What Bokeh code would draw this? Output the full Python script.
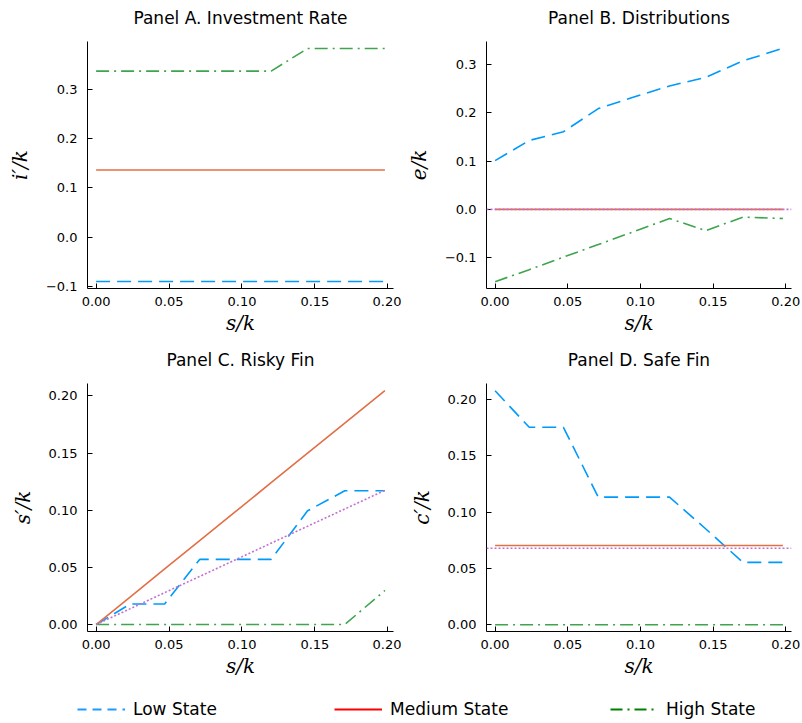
from bokeh.plotting import figure
from bokeh.models import (Range1d, FixedTicker, CustomJSTickFormatter, Span,
                          Legend, LegendItem, Label)
from bokeh.layouts import column, row
from bokeh.embed import file_html
from bokeh.resources import INLINE

# ---------------- data ----------------
s_grid = [0.0, 0.0235, 0.047, 0.071, 0.0955, 0.12, 0.145, 0.1705, 0.198]

inv_low = [-0.090, -0.090, -0.090, -0.090, -0.090, -0.090, -0.090, -0.090, -0.090]
inv_med = [0.136, 0.136, 0.136, 0.136, 0.136, 0.136, 0.136, 0.136, 0.136]
inv_high = [0.3367, 0.3367, 0.3367, 0.3367, 0.3367, 0.3367, 0.3825, 0.3825, 0.3825]

dist_low = [0.101, 0.143, 0.161, 0.209, 0.233, 0.256, 0.274, 0.308, 0.334]
dist_med = [0.0, 0.0, 0.0, 0.0, 0.0, 0.0, 0.0, 0.0, 0.0]
dist_high = [-0.150, -0.125, -0.099, -0.073, -0.046, -0.019, -0.044, -0.016, -0.019]
dist_ref = 0.0

risky_low = [0.0, 0.018, 0.018, 0.057, 0.057, 0.057, 0.0995, 0.117, 0.117]
risky_med = [0.0, 0.0243, 0.0486, 0.0734, 0.0987, 0.1241, 0.1499, 0.1763, 0.2047]
risky_high = [0.0, 0.0, 0.0, 0.0, 0.0, 0.0, 0.0, 0.0, 0.0298]
risky_ref = [0.0, 0.0139, 0.0279, 0.0421, 0.0566, 0.0712, 0.0860, 0.1011, 0.1174]

safe_low = [0.2077, 0.1753, 0.1753, 0.1133, 0.1133, 0.1133, 0.085, 0.0554, 0.0554]
safe_med = [0.0703, 0.0703, 0.0703, 0.0703, 0.0703, 0.0703, 0.0703, 0.0703, 0.0703]
safe_high = [0.0, 0.0, 0.0, 0.0, 0.0, 0.0, 0.0, 0.0, 0.0]
safe_ref = 0.0679

x_ticks = [0.0, 0.05, 0.10, 0.15, 0.20]
y_ticks_a = [-0.1, 0.0, 0.1, 0.2, 0.3]
y_ticks_b = [-0.1, 0.0, 0.1, 0.2, 0.3]
y_ticks_c = [0.0, 0.05, 0.10, 0.15, 0.20]
y_ticks_d = [0.0, 0.05, 0.10, 0.15, 0.20]

titles_top = ["Panel A. Investment Rate", "Panel B. Distributions"]
titles_bottom = ["Panel C. Risky Fin", "Panel D. Safe Fin"]
legend_labels = ["Low State", "Medium State", "High State"]

# ---------------- style ----------------
BLUE = "#009AFA"
ORANGE = "#E36F47"
GREEN = "#3EA44E"
PURPLE = "#C271D2"
LW = 1.6
DASH = "14 7"
DASHDOT = "13 5 2 5"
DOT = "2 2"
STRIP_H = 34


def fmt(dec):
    return CustomJSTickFormatter(
        code="return tick.toFixed(%d).replace('-', '\u2212');" % dec)


def blank_strip(height):
    p = figure(width=802, height=height, output_backend="svg", toolbar_location=None,
               x_range=Range1d(10, 11), y_range=Range1d(10, 11),
               x_axis_location=None, y_axis_location=None,
               min_border=0, min_border_left=0, min_border_right=0,
               min_border_top=0, min_border_bottom=0)
    p.grid.visible = False
    p.outline_line_color = None
    p.border_fill_color = "white"
    p.background_fill_color = "white"
    return p


def title_strip(texts, centers, ymid):
    p = blank_strip(STRIP_H)
    for t, cx in zip(texts, centers):
        p.add_layout(Label(x=cx, y=STRIP_H - ymid, x_units="screen", y_units="screen",
                           text=t, text_align="center", text_baseline="middle",
                           text_font="DejaVu Sans", text_font_size="17px",
                           text_color="black"))
    return p


def make_panel(ylabel, yr, yticks, ydec, bl, br, bt, bb):
    p = figure(width=401, height=340 - STRIP_H, output_backend="svg", toolbar_location=None,
               x_range=Range1d(-0.0059, 0.2039), y_range=Range1d(*yr),
               min_border_left=bl, min_border_right=br,
               min_border_top=bt - STRIP_H, min_border_bottom=bb)
    p.grid.visible = False
    p.outline_line_color = None
    p.background_fill_color = "white"
    p.border_fill_color = "white"
    xa = p.xaxis[0]
    ya = p.yaxis[0]
    xa.ticker = FixedTicker(ticks=x_ticks)
    ya.ticker = FixedTicker(ticks=yticks)
    xa.formatter = fmt(2)
    ya.formatter = fmt(ydec)
    xa.axis_label = "s/k"
    ya.axis_label = ylabel
    for ax in (xa, ya):
        ax.axis_line_color = "black"
        ax.axis_line_width = 1
        ax.major_tick_line_color = "black"
        ax.major_tick_in = 5
        ax.major_tick_out = 0
        ax.minor_tick_line_color = None
        ax.major_label_text_font = "DejaVu Sans"
        ax.major_label_text_font_size = "13px"
        ax.major_label_text_color = "black"
        ax.axis_label_text_font = "DejaVu Serif"
        ax.axis_label_text_font_style = "italic"
        ax.axis_label_text_font_size = "20px"
        ax.axis_label_text_color = "black"
    xa.major_label_standoff = 8
    xa.axis_label_standoff = 2
    ya.major_label_standoff = 10
    ya.axis_label_standoff = 11
    return p


def add_states(p, low, med, high):
    p.line(s_grid, low, line_color=BLUE, line_width=LW, line_dash=DASH)
    p.line(s_grid, med, line_color=ORANGE, line_width=LW)
    p.line(s_grid, high, line_color=GREEN, line_width=LW, line_dash=DASHDOT)


pA = make_panel("i\u2032/k", (-0.1042, 0.3967), y_ticks_a, 1, 87, 8, 41, 52)
add_states(pA, inv_low, inv_med, inv_high)

pB = make_panel("e/k", (-0.1641, 0.3482), y_ticks_b, 1, 85, 11, 41, 52)
add_states(pB, dist_low, dist_med, dist_high)
pB.add_layout(Span(location=dist_ref, dimension="width", line_color=PURPLE,
                   line_width=LW, line_dash=DOT))

pC = make_panel("s\u2032/k", (-0.0061, 0.2109), y_ticks_c, 2, 87, 8, 43, 49)
add_states(pC, risky_low, risky_med, risky_high)
pC.line(s_grid, risky_ref, line_color=PURPLE, line_width=LW, line_dash=DOT)

pD = make_panel("c\u2032/k", (-0.0060, 0.2142), y_ticks_d, 2, 85, 11, 43, 49)
add_states(pD, safe_low, safe_med, safe_high)
pD.add_layout(Span(location=safe_ref, dimension="width", line_color=PURPLE,
                   line_width=LW, line_dash=DOT))

tTop = title_strip(titles_top, [240, 638.5], 17.3)
tBot = title_strip(titles_bottom, [240, 638.5], 19.3)

# ---------------- legend strip ----------------
# The strip's ranges lie outside the data, so only the legend samples show.
pL = blank_strip(43)
leg_styles = [dict(line_color="#1E9BFF", line_dash="9 6"),
              dict(line_color="#FF0000"),
              dict(line_color="#008000", line_dash="12 5 2 5")]
leg_series = [inv_low, inv_med, inv_high]
leg_x = [77, 334, 610]
for lab, st, ser, lx in zip(legend_labels, leg_styles, leg_series, leg_x):
    r = pL.line(s_grid, ser, line_width=2, **st)
    lg = Legend(items=[LegendItem(label=lab, renderers=[r])], location=(lx, 4),
                orientation="horizontal", padding=0, margin=0, spacing=0,
                glyph_width=48, glyph_height=20, label_height=20, label_standoff=8,
                label_text_font="DejaVu Sans", label_text_font_size="17px",
                label_text_color="black", border_line_color=None,
                background_fill_alpha=0)
    pL.add_layout(lg)

layout = column(tTop, row(pA, pB), tBot, row(pC, pD), pL)

with open("out.html", "w") as f:
    f.write(file_html(layout, INLINE))
